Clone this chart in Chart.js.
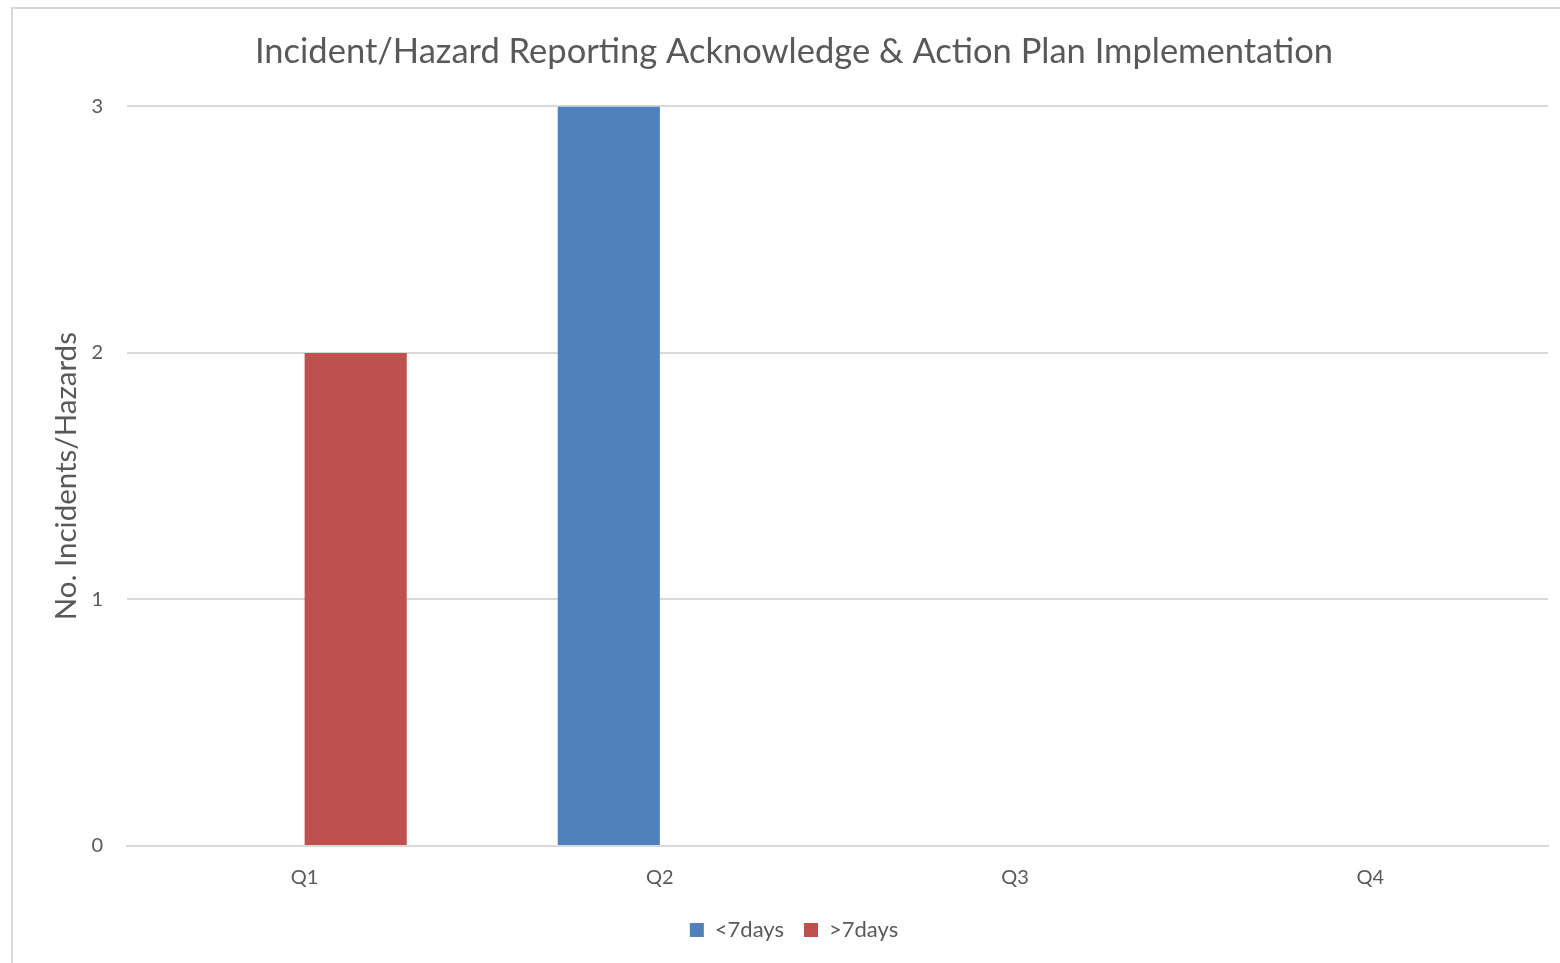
<!DOCTYPE html>
<html>
<head>
<meta charset="utf-8">
<script src="https://cdn.jsdelivr.net/npm/chart.js@4"></script>
<style>
  html, body { margin: 0; padding: 0; background: #ffffff; }
  #frame { position: absolute; left: 11px; top: 7px; width: 1600px; height: 1000px; border: 2px solid #D9D9D9; box-sizing: border-box; }
  #wrap { position: absolute; left: 0; top: 0; width: 1560px; height: 963px; }
</style>
</head>
<body>
<div id="frame"></div>
<div id="wrap"><canvas id="c" width="1560" height="963"></canvas></div>
<script>
const categories = ["Q1", "Q2", "Q3", "Q4"];
const seriesNames = ["<7days", ">7days"];
const lessThan7 = [0, 3, 0, 0];
const moreThan7 = [2, 0, 0, 0];
const yTicks = [0, 1, 2, 3];
const titleText = "Incident/Hazard Reporting Acknowledge & Action Plan Implementation";
const yTitle = "No. Incidents/Hazards";

const FONT = "Lato, 'Open Sans', sans-serif";
const TXT = "#595959";
const PAD_LEFT = 40;

new Chart(document.getElementById('c'), {
  type: 'bar',
  data: {
    labels: categories,
    datasets: [
      { label: seriesNames[0], data: lessThan7, backgroundColor: '#4F81BD', categoryPercentage: 0.575, barPercentage: 1.0 },
      { label: seriesNames[1], data: moreThan7, backgroundColor: '#C0504D', categoryPercentage: 0.575, barPercentage: 1.0 }
    ]
  },
  options: {
    responsive: false,
    animation: false,
    devicePixelRatio: 1,
    layout: { padding: { left: PAD_LEFT, right: 12, top: 0, bottom: 12 } },
    plugins: {
      tooltip: { enabled: false },
      title: {
        display: true, text: titleText, color: TXT,
        font: { family: FONT, size: 34.5, weight: 'normal' },
        padding: { top: 31, bottom: 34 }
      },
      legend: {
        position: 'bottom',
        labels: {
          color: TXT, font: { family: FONT, size: 22 },
          boxWidth: 14, boxHeight: 14, padding: 20
        }
      }
    },
    scales: {
      x: {
        grid: { display: false, drawTicks: false },
        border: { display: true, color: '#D9D9D9', width: 2 },
        ticks: { color: TXT, font: { family: FONT, size: 20 }, padding: 20 },
        afterFit: (s) => { s.height = 53; }
      },
      y: {
        min: 0, max: 3,
        afterBuildTicks: (s) => { s.ticks = yTicks.map(v => ({ value: v })); },
        grid: { color: '#D9D9D9', lineWidth: 2, drawTicks: false },
        border: { display: false },
        ticks: { color: TXT, font: { family: FONT, size: 20 }, padding: 24 },
        title: {
          display: true, text: yTitle, color: TXT,
          font: { family: FONT, size: 29.5 },
          padding: { top: 49 - PAD_LEFT, bottom: 0 }
        },
        afterFit: (s) => { s.width = 127 - PAD_LEFT; }
      }
    }
  }
});
</script>
</body>
</html>
